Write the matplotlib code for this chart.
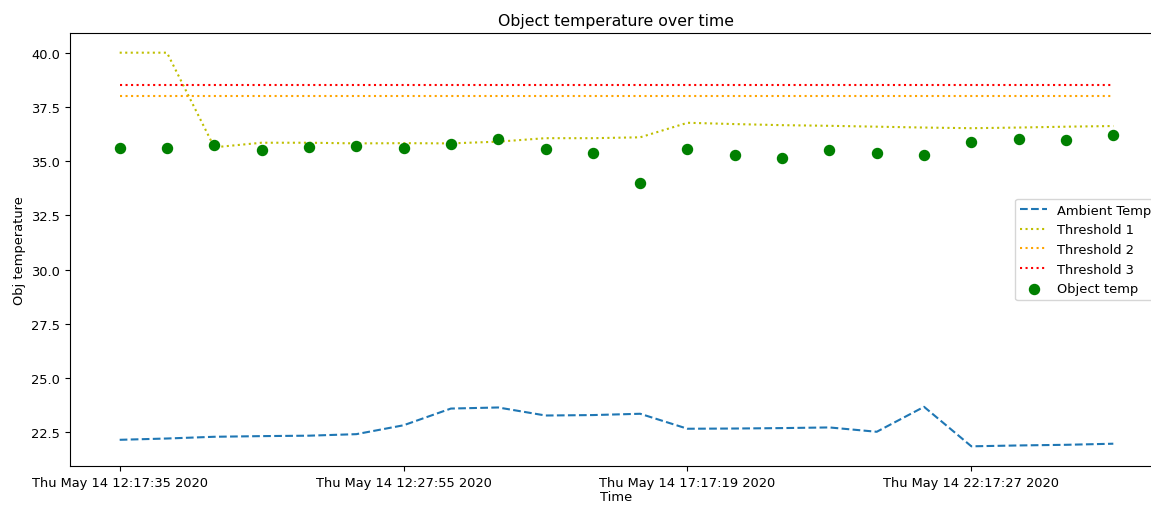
import matplotlib
matplotlib.use("Agg")
import matplotlib.pyplot as plt
import numpy as np

# ---- data ----
n_points = 22
tick_index = [0, 6, 12, 18]
tick_labels = ["Thu May 14 12:17:35 2020", "Thu May 14 12:27:55 2020",
               "Thu May 14 17:17:19 2020", "Thu May 14 22:17:27 2020"]

ambient_temp = [22.16, 22.22, 22.30, 22.33, 22.35, 22.42, 22.83, 23.60, 23.65, 23.28, 23.30,
                23.36, 22.67, 22.68, 22.70, 22.73, 22.53, 23.68, 21.86, 21.90, 21.93, 21.98]
threshold_1 = [40.0, 40.0, 35.64, 35.85, 35.85, 35.82, 35.83, 35.82, 35.90, 36.06, 36.06,
               36.10, 36.77, 36.71, 36.66, 36.63, 36.59, 36.55, 36.52, 36.55, 36.59, 36.62]
threshold_2 = [38.0] * n_points
threshold_3 = [38.5] * n_points
object_temp = [35.59, 35.59, 35.74, 35.51, 35.67, 35.70, 35.59, 35.79, 36.04, 35.56, 35.36,
               34.01, 35.58, 35.27, 35.13, 35.51, 35.36, 35.30, 35.90, 36.04, 35.96, 36.19]

plt.rcParams["font.size"] = 9.4

x = np.arange(n_points)

fig = plt.figure(figsize=(11.51, 5.06), dpi=100)
ax = fig.add_axes([70 / 1151, (506 - 467) / 506, (1163 - 70) / 1151, (467 - 34) / 506])

ax.plot(x, ambient_temp, linestyle="--", color="#1f77b4", lw=1.5, label="Ambient Temp")
ax.plot(x, threshold_1, linestyle=":", color="y", lw=1.5, label="Threshold 1")
ax.plot(x, threshold_2, linestyle=":", color="orange", lw=1.5, label="Threshold 2")
ax.plot(x, threshold_3, linestyle=":", color="red", lw=1.5, label="Threshold 3")
ax.scatter(x, object_temp, s=52, color="green", label="Object temp", zorder=3)

ax.set_xticks(tick_index)
ax.set_xticklabels(tick_labels)
ax.set_title("Object temperature over time", fontsize=11.3)
ax.set_xlabel("Time", labelpad=1)
ax.set_ylabel("Obj temperature")
ax.legend(loc="center right")

fig.savefig("out.png", dpi=100)
